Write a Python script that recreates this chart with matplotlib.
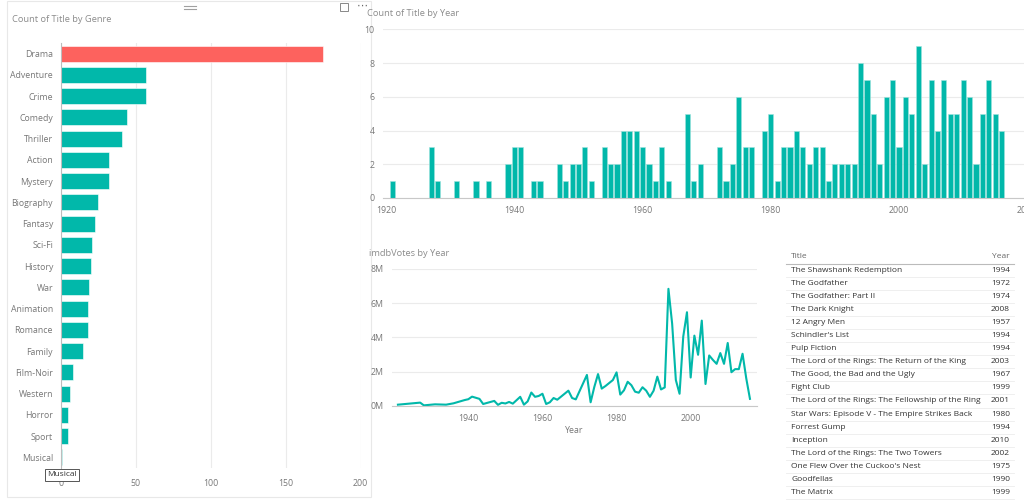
import matplotlib
matplotlib.use("Agg")
import matplotlib.pyplot as plt
from matplotlib.lines import Line2D
from matplotlib.patches import Rectangle
from matplotlib.ticker import FuncFormatter

plt.rcParams['font.family'] = ['Open Sans', 'DejaVu Sans']

genres = ['Drama', 'Adventure', 'Crime', 'Comedy', 'Thriller', 'Action', 'Mystery',
          'Biography', 'Fantasy', 'Sci-Fi', 'History', 'War', 'Animation', 'Romance',
          'Family', 'Film-Noir', 'Western', 'Horror', 'Sport', 'Musical']
genre_counts = [175, 57, 57, 44, 41, 32, 32, 25, 23, 21, 20, 19, 18, 18, 15, 8, 6, 5, 5, 1]

years = [1921, 1927, 1928, 1931, 1934, 1936, 1939, 1940, 1941, 1943, 1944,
         1947, 1948, 1949, 1950, 1951, 1952, 1954, 1955, 1956, 1957, 1958, 1959,
         1960, 1961, 1962, 1963, 1964, 1967, 1968, 1969, 1972, 1973, 1974, 1975,
         1976, 1977, 1979, 1980, 1981, 1982, 1983, 1984, 1985, 1986, 1987, 1988,
         1989, 1990, 1991, 1992, 1993, 1994, 1995, 1996, 1997, 1998, 1999, 2000,
         2001, 2002, 2003, 2004, 2005, 2006, 2007, 2008, 2009, 2010, 2011, 2012,
         2013, 2014, 2015, 2016]
year_counts = [1, 3, 1, 1, 1, 1, 2, 3, 3, 1, 1,
               2, 1, 2, 2, 3, 1, 3, 2, 2, 4, 4, 4,
               3, 2, 1, 3, 1, 5, 1, 2, 3, 1, 2, 6,
               3, 3, 4, 5, 1, 3, 3, 4, 3, 2, 3, 3,
               1, 2, 2, 2, 2, 8, 7, 5, 2, 6, 7, 3,
               6, 5, 9, 2, 7, 4, 7, 5, 5, 7, 6, 2,
               5, 7, 5, 4]
votes_m = [0.06, 0.18, 0.02, 0.08, 0.06, 0.14, 0.33, 0.38, 0.53, 0.40, 0.10,
           0.28, 0.05, 0.17, 0.13, 0.22, 0.12, 0.52, 0.06, 0.25, 0.77, 0.52, 0.57,
           0.70, 0.10, 0.20, 0.45, 0.35, 0.88, 0.45, 0.37, 1.80, 0.20, 1.10, 1.85,
           1.00, 1.15, 1.50, 1.95, 0.65, 0.90, 1.40, 1.20, 0.82, 0.76, 1.08, 0.88,
           0.52, 0.88, 1.70, 0.95, 1.07, 6.84, 4.80, 1.50, 0.70, 4.05, 5.47, 1.65,
           4.10, 2.98, 4.98, 1.27, 2.94, 2.68, 2.45, 3.08, 2.45, 3.67, 1.96, 2.14,
           2.14, 3.04, 1.60, 0.40]

titles = ['The Shawshank Redemption', 'The Godfather', 'The Godfather: Part II',
          'The Dark Knight', '12 Angry Men', "Schindler's List", 'Pulp Fiction',
          'The Lord of the Rings: The Return of the King', 'The Good, the Bad and the Ugly',
          'Fight Club', 'The Lord of the Rings: The Fellowship of the Ring',
          'Star Wars: Episode V - The Empire Strikes Back', 'Forrest Gump', 'Inception',
          'The Lord of the Rings: The Two Towers', "One Flew Over the Cuckoo's Nest",
          'Goodfellas', 'The Matrix']
title_years = [1994, 1972, 1974, 2008, 1957, 1994, 1994, 2003, 1967, 1999, 2001,
               1980, 1994, 2010, 2002, 1975, 1990, 1999]

W, H = 1024, 504
TEAL = '#01B8AA'
RED = '#FD625E'
GRID = '#ebebeb'
TICK = '#777777'
TITLE = '#8c8c8c'
TSIZE = 6.7
LSIZE = 6.3

fig = plt.figure(figsize=(W / 100, H / 100), dpi=100)


def box(l, t, r, b):
    return [l / W, 1 - b / H, (r - l) / W, (b - t) / H]


def fx(x):
    return x / W


def fy(y):
    return 1 - y / H


# left card border and header icons
fig.add_artist(Rectangle((fx(7), fy(497)), (371 - 7) / W, (497 - 1) / H,
                         transform=fig.transFigure, fill=False, edgecolor='#e8e8e8',
                         lw=0.8, zorder=-1))
fig.add_artist(Line2D([fx(184), fx(196)], [fy(6), fy(6)], color='#a0a0a0', lw=0.8))
fig.add_artist(Line2D([fx(184), fx(196)], [fy(8.5), fy(8.5)], color='#a0a0a0', lw=0.8))
fig.add_artist(Rectangle((fx(340), fy(11)), 8 / W, 8 / H, transform=fig.transFigure,
                         fill=False, edgecolor='#888888', lw=0.7))
fig.text(fx(362), fy(6), '\u22ef', fontsize=8, color='#666666', ha='center', va='center',
         family='DejaVu Sans')

# ---- Count of Title by Genre
ax1 = fig.add_axes(box(60.7, 43, 360.7, 468))
colors = [RED] + [TEAL] * (len(genres) - 1)
ax1.barh(range(len(genres)), genre_counts, height=0.76, color=colors,
         edgecolor='white', linewidth=0.4)
ax1.set_ylim(len(genres) - 0.5, -0.5)
ax1.set_xlim(0, 200)
ax1.set_xticks([0, 50, 100, 150, 200])
ax1.set_yticks(range(len(genres)))
ax1.set_yticklabels(genres)
ax1.xaxis.grid(True, color=GRID, lw=0.8)
ax1.set_axisbelow(True)
for s in ['top', 'right', 'bottom']:
    ax1.spines[s].set_visible(False)
ax1.spines['left'].set_color('#bdbdbd')
ax1.tick_params(length=0, labelsize=LSIZE, labelcolor=TICK)
ax1.tick_params(axis='y', pad=5.5)
ax1.tick_params(axis='x', pad=8)
fig.text(fx(12), fy(20), 'Count of Title by Genre', fontsize=TSIZE, color=TITLE, va='center')
fig.text(fx(62), fy(475), 'Musical', fontsize=6.0, color='#333333', ha='center', va='center',
         bbox=dict(boxstyle='square,pad=0.25', facecolor='white', edgecolor='#555555', lw=0.7))

# ---- Count of Title by Year
ax2 = fig.add_axes(box(383, 29.3, 1028.5, 198))
ax2.bar(years, year_counts, width=0.8, color=TEAL, edgecolor='#9fe3dd', linewidth=0.4)
ax2.set_xlim(1919.5, 2020.2)
ax2.set_ylim(0, 10)
ax2.set_yticks([0, 2, 4, 6, 8, 10])
ax2.set_xticks([1920, 1940, 1960, 1980, 2000, 2020])
ax2.yaxis.grid(True, color=GRID, lw=0.8)
ax2.set_axisbelow(True)
for s in ['top', 'right', 'left']:
    ax2.spines[s].set_visible(False)
ax2.spines['bottom'].set_color('#c8c8c8')
ax2.tick_params(length=0, labelsize=LSIZE, labelcolor=TICK)
ax2.tick_params(axis='y', pad=6)
ax2.tick_params(axis='x', pad=6)
fig.text(fx(367), fy(13), 'Count of Title by Year', fontsize=TSIZE, color=TITLE, va='center')

# ---- imdbVotes by Year
ax3 = fig.add_axes(box(392, 269, 757, 405.7))
ax3.plot(years, [v * 1e6 for v in votes_m], color=TEAL, lw=1.5)
ax3.set_xlim(1919.4, 2017.9)
ax3.set_ylim(0, 8e6)
ax3.set_yticks([0, 2e6, 4e6, 6e6, 8e6])
ax3.yaxis.set_major_formatter(FuncFormatter(lambda v, p: '%dM' % round(v / 1e6)))
ax3.set_xticks([1940, 1960, 1980, 2000])
ax3.yaxis.grid(True, color=GRID, lw=0.8)
ax3.set_axisbelow(True)
for s in ['top', 'right', 'left']:
    ax3.spines[s].set_visible(False)
ax3.spines['bottom'].set_color('#c8c8c8')
ax3.tick_params(length=0, labelsize=LSIZE, labelcolor=TICK)
ax3.tick_params(axis='y', pad=6)
ax3.tick_params(axis='x', pad=6)
ax3.set_xlabel('Year', fontsize=LSIZE, color=TICK, labelpad=2)
fig.text(fx(369), fy(253), 'imdbVotes by Year', fontsize=TSIZE, color=TITLE, va='center')

# ---- table
fig.text(fx(791), fy(257), 'Title', fontsize=6.0, color='#666666', va='center')
fig.text(fx(1010), fy(257), 'Year', fontsize=6.0, color='#666666', va='center', ha='right')
fig.add_artist(Line2D([fx(786), fx(1014)], [fy(264), fy(264)], color='#bbbbbb', lw=0.8))
row_h = 13.1
for i, (t, y) in enumerate(zip(titles, title_years)):
    yc = 270 + i * row_h
    fig.text(fx(791), fy(yc), t, fontsize=6.0, color='#333333', va='center')
    fig.text(fx(1010), fy(yc), str(y), fontsize=6.0, color='#333333', va='center', ha='right')
    fig.add_artist(Line2D([fx(786), fx(1014)], [fy(yc + 6.5), fy(yc + 6.5)],
                          color='#ececec', lw=0.6))

fig.savefig('out.png', dpi=100, facecolor='white')
